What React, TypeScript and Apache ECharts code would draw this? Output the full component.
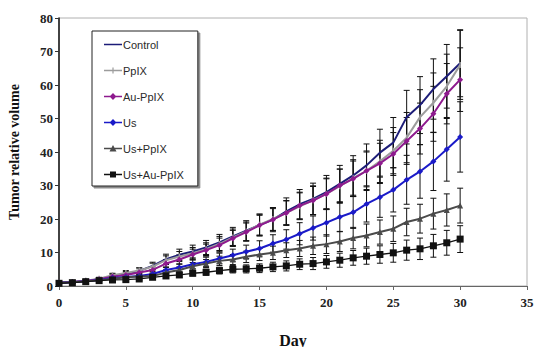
import React, { useEffect, useRef } from "react";
import * as echarts from "echarts";

const days = [0,1,2,3,4,5,6,7,8,9,10,11,12,13,14,15,16,17,18,19,20,21,22,23,24,25,26,27,28,29,30];

const seriesNames = ["Control", "PpIX", "Au-PpIX", "Us", "Us+PpIX", "Us+Au-PpIX"];

const controlVals = [1,1.2,1.5,2.0,3.0,3.6,4.5,6.0,8.0,9.3,10.3,11.5,13.0,14.8,16.5,18.2,19.8,22.3,24.4,26.0,28.0,30.5,33.0,36.0,39.8,42.8,50.4,54.0,58.8,62.6,66.5];
const ppixVals = [1,1.2,1.6,2.2,3.2,3.9,4.6,5.8,7.7,8.8,9.8,11.0,12.6,14.5,16.3,18.3,20.0,21.8,23.8,25.6,27.5,29.8,32.2,34.4,37.2,40.4,44.3,50.4,54.7,59.6,66.0];
const auPpixVals = [1,1.2,1.5,2.0,2.8,3.3,4.0,4.8,6.7,7.9,9.4,10.7,12.2,14.2,16.1,18.1,19.8,21.8,24.0,25.5,27.5,30.0,32.0,34.4,36.6,39.4,43.3,47.0,51.4,57.4,61.6];
const usVals = [1,1.1,1.4,1.8,2.4,2.7,3.0,3.6,4.8,5.5,6.5,7.2,8.2,9.2,10.2,11.2,12.7,13.9,15.6,17.3,18.9,20.6,22.0,24.5,26.5,28.7,31.7,34.2,37.2,40.8,44.5];
const usPpixVals = [1,1.1,1.4,1.7,2.2,2.6,2.8,3.0,4.0,4.8,5.9,6.7,7.5,7.9,8.7,9.4,9.9,10.7,11.2,12.0,12.5,13.3,14.3,15.1,16.1,17.1,19.1,20.1,21.6,22.7,24.0];
const usAuPpixVals = [0.8,1.0,1.3,1.6,1.8,1.9,2.1,2.6,3.0,3.3,3.8,4.1,4.6,5.0,5.1,5.3,5.7,6.0,6.5,6.7,7.2,7.7,8.4,8.9,9.4,9.9,10.7,11.1,12.0,12.9,14.0];

const controlErr = [0.2,0.3,0.3,0.4,0.6,0.7,0.9,1.1,1.5,1.7,1.9,2.1,2.4,2.7,3.0,3.3,3.6,4.0,4.4,4.7,5.0,5.5,5.9,6.4,7.0,7.5,8.0,8.5,9.0,9.5,10.0];
const ppixErr = [0.2,0.3,0.3,0.4,0.6,0.7,0.8,1.0,1.3,1.5,1.7,1.9,2.2,2.5,2.8,3.1,3.4,3.7,4.0,4.3,4.7,5.1,5.5,5.9,6.3,6.9,7.5,8.2,8.9,9.6,10.3];
const auPpixErr = [0.2,0.3,0.3,0.4,0.5,0.6,0.7,0.9,1.2,1.4,1.6,1.8,2.1,2.4,2.7,3.0,3.3,3.6,4.0,4.2,4.5,4.9,5.3,5.6,6.0,6.4,7.0,7.6,8.2,9.0,9.5];
const usErr = [0.2,0.2,0.3,0.3,0.4,0.5,0.6,0.7,0.9,1.1,1.3,1.4,1.6,1.8,2.0,2.3,2.6,2.9,3.3,3.6,4.0,4.4,4.8,5.4,6.0,6.6,7.3,8.0,8.7,9.5,10.5];
const usPpixErr = [0.2,0.2,0.3,0.3,0.4,0.5,0.5,0.6,0.8,0.9,1.1,1.2,1.4,1.5,1.7,1.8,2.0,2.2,2.4,2.6,2.8,3.0,3.2,3.4,3.6,3.8,4.1,4.3,4.6,4.8,5.2];
const usAuPpixErr = [0.2,0.2,0.2,0.3,0.3,0.4,0.4,0.5,0.6,0.7,0.8,0.9,1.0,1.1,1.2,1.3,1.4,1.5,1.6,1.8,1.9,2.1,2.2,2.4,2.6,2.8,3.0,3.2,3.4,3.7,4.0];

const yTicks = [0, 10, 20, 30, 40, 50, 60, 70, 80];
const xTicks = [0, 5, 10, 15, 20, 25, 30, 35];

const allVals = [controlVals, ppixVals, auPpixVals, usVals, usPpixVals, usAuPpixVals];
const allErr = [controlErr, ppixErr, auPpixErr, usErr, usPpixErr, usAuPpixErr];

const specks = "M0,0 L0.05,0 L0,0.05 Z M18,10 L17.95,10 L18,9.95 Z ";
const lineBar = "M0,4.2 L18,4.2 L18,5.8 L0,5.8 Z ";
const icons = [
  "path://" + specks + lineBar,
  "path://" + specks + lineBar + "M8.4,2 L9.6,2 L9.6,8 L8.4,8 Z",
  "path://" + specks + lineBar + "M9,1.6 L12.4,5 L9,8.4 L5.6,5 Z",
  "path://" + specks + lineBar + "M9,1.6 L12.4,5 L9,8.4 L5.6,5 Z",
  "path://" + specks + lineBar + "M9,1.6 L12.5,8 L5.5,8 Z",
  "path://" + specks + lineBar + "M6,2 L12,2 L12,8 L6,8 Z",
];

const styles = [
  { color: "#1c1c78", symbol: "none", size: 0, width: 2 },
  { color: "#9c9c9c", symbol: "rect", size: [1.5, 6], width: 2 },
  { color: "#8e1a8e", symbol: "diamond", size: 6, width: 2 },
  { color: "#1a1ac8", symbol: "diamond", size: 6, width: 2 },
  { color: "#4a4a4a", symbol: "triangle", size: 6, width: 2 },
  { color: "#111111", symbol: "rect", size: 7, width: 1.3 },
];

export default function App() {
  const ref = useRef<HTMLDivElement>(null);
  useEffect(() => {
    if (!ref.current) return;
    const chart = echarts.init(ref.current, undefined, { renderer: "svg" });

    const errSeries = allVals.map((vals, si) => ({
      type: "custom",
      silent: true,
      z: 1,
      data: days.map((d, i) => [d, vals[i] - allErr[si][i], vals[i] + allErr[si][i]]),
      renderItem: (params: any, api: any) => {
        const x = api.value(0);
        const lo = api.coord([x, api.value(1)]);
        const hi = api.coord([x, api.value(2)]);
        const cw = 3;
        const st = { stroke: "#111", lineWidth: 1 };
        return {
          type: "group",
          children: [
            { type: "line", shape: { x1: lo[0], y1: lo[1], x2: hi[0], y2: hi[1] }, style: st },
            { type: "line", shape: { x1: lo[0] - cw, y1: lo[1], x2: lo[0] + cw, y2: lo[1] }, style: st },
            { type: "line", shape: { x1: hi[0] - cw, y1: hi[1], x2: hi[0] + cw, y2: hi[1] }, style: st },
          ],
        };
      },
    }));

    const lineSeries = allVals.map((vals, si) => ({
      name: seriesNames[si],
      type: "line",
      z: 3,
      data: days.map((d, i) => [d, vals[i]]),
      symbol: styles[si].symbol,
      symbolSize: styles[si].size,
      showSymbol: styles[si].symbol !== "none",
      lineStyle: { color: styles[si].color, width: styles[si].width },
      itemStyle: { color: styles[si].color },
      emphasis: { disabled: true },
    }));

    const serif = "'Liberation Serif', 'Times New Roman', serif";

    chart.setOption({
      animation: false,
      backgroundColor: "#ffffff",
      grid: {
        left: 59,
        right: 7,
        top: 18,
        bottom: 61,
        containLabel: false,
        outerBoundsMode: "none",
        show: true,
        borderColor: "#b0b0b0",
        borderWidth: 1,
      },
      legend: {
        data: seriesNames.map((n, i) => ({ name: n, icon: icons[i], itemStyle: { color: styles[i].color } })),
        orient: "vertical",
        left: 92,
        top: 31,
        padding: [8, 14, 6, 12],
        itemWidth: 18,
        itemHeight: 10,
        itemGap: 15,
        backgroundColor: "#ffffff",
        borderColor: "#222",
        borderWidth: 1,
        shadowColor: "rgba(0,0,0,0.45)",
        shadowOffsetX: 2,
        shadowOffsetY: 2,
        shadowBlur: 1,
        textStyle: { fontFamily: "'Liberation Sans', Arial, sans-serif", fontSize: 11, color: "#2a2a2a", padding: [0, 0, 0, -4] },
      },
      xAxis: {
        type: "value",
        min: xTicks[0],
        max: xTicks[xTicks.length - 1],
        interval: 5,
        name: "Day",
        nameLocation: "middle",
        nameGap: 46,
        nameTextStyle: { fontFamily: serif, fontWeight: "bold", fontSize: 16, color: "#111" },
        axisLine: { show: true, lineStyle: { color: "#666", width: 1 } },
        axisTick: { show: true, inside: false, length: 4, lineStyle: { color: "#666" } },
        axisLabel: { fontFamily: serif, fontWeight: "bold", fontSize: 13, color: "#222", margin: 10 },
        splitLine: { show: false },
      },
      yAxis: {
        type: "value",
        min: yTicks[0],
        max: yTicks[yTicks.length - 1],
        interval: 10,
        name: "Tumor relative volume",
        nameLocation: "middle",
        nameGap: 38,
        nameTextStyle: { fontFamily: serif, fontWeight: "bold", fontSize: 14, color: "#111" },
        axisLine: { show: true, lineStyle: { color: "#111", width: 1.5 } },
        axisTick: { show: true, inside: false, length: 4, lineStyle: { color: "#333" } },
        axisLabel: { fontFamily: serif, fontWeight: "bold", fontSize: 13, color: "#222", margin: 6 },
        splitLine: { show: false },
      },
      series: [...errSeries, ...lineSeries],
    });
    return () => chart.dispose();
  }, []);
  return <div ref={ref} style={{ width: 534, height: 347, position: "absolute", left: 0, top: 0 }} />;
}
